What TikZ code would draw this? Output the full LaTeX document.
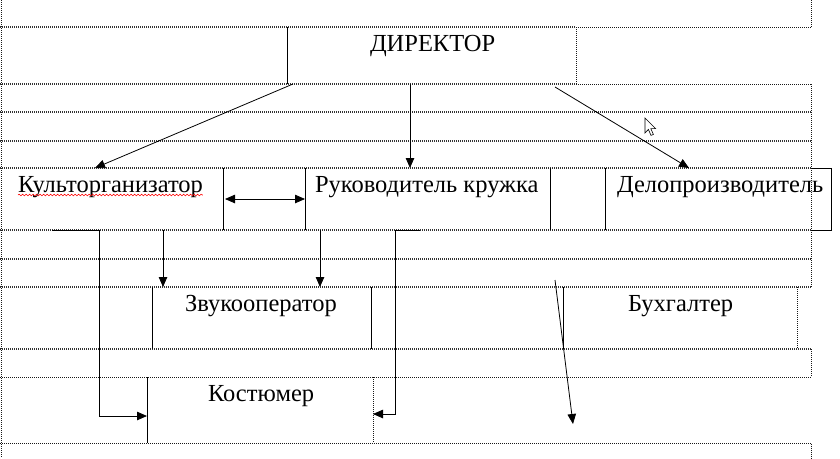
\documentclass[tikz,border=0pt]{standalone}
\usepackage{fontspec}
\setmainfont{Liberation Serif}
\usetikzlibrary{arrows.meta,decorations.pathmorphing}
\begin{document}
\begin{tikzpicture}[x=1pt,y=-1pt,
  cell/.style={rectangle, inner sep=0pt, outer sep=0pt, anchor=north west},
  lbl/.style={anchor=base west, inner sep=0pt, outer sep=0pt, font=\fontsize{24.5}{29}\selectfont},
  border/.style={line width=0.8pt},
  arr/.style={line width=0.8pt, -{Triangle[length=10pt,width=8.5pt]}},
  darr/.style={line width=0.8pt, {Triangle[length=10pt,width=8.5pt]}-{Triangle[length=10pt,width=8.5pt]}},
  gridd/.style={line width=1.7pt, dash pattern=on 1pt off 1pt, black!80},
  grids/.style={line width=0.9pt, dash pattern=on 1pt off 1pt, black!90}]
\useasboundingbox[fill=white] (0,0) rectangle (840,458);

% table gridlines
\draw[grids] (1.5,0) -- (1.5,458);
\draw[grids] (811,0) -- (811,27);
\draw[gridd] (0,27) -- (576,27);
\draw[grids] (576,27) -- (811,27);
\draw[grids] (576,27) -- (576,84);
\draw[gridd] (0,84) -- (576,84);
\draw[grids] (576,84) -- (811,84);
\draw[grids] (811,84) -- (811,287);
\foreach \yy in {112,141,168,230,259,287,349}
  \draw[gridd] (0,\yy) -- (811,\yy);
\draw[grids] (797,287) -- (797,349);
\draw[grids] (811,349) -- (811,377);
\draw[grids] (0,377) -- (811,377);
\draw[grids] (373,377) -- (373,443);
\draw[grids] (0,443.5) -- (811,443.5);
\draw[grids] (811,443.5) -- (811,458);

% cells
\node[cell, minimum width=289pt, minimum height=57pt] (dir) at (287,27) {};
\node[cell, minimum width=223pt, minimum height=62pt] (kult) at (0,168) {};
\node[cell, minimum width=245pt, minimum height=62pt] (ruk) at (305,168) {};
\node[cell, minimum width=226pt, minimum height=62pt] (delo) at (605,168) {};
\node[cell, minimum width=219pt, minimum height=62pt] (zvuk) at (152,287) {};
\node[cell, minimum width=234pt, minimum height=62pt] (buh) at (563,287) {};
\node[cell, minimum width=226pt, minimum height=66pt] (kost) at (147,377) {};

% solid borders
\draw[border] (dir.north west) -- (dir.south west);
\draw[border] (kult.north east) -- (kult.south east);
\draw[border] (ruk.north west) -- (ruk.south west);
\draw[border] (ruk.north east) -- (ruk.south east);
\draw[border] (delo.north west) -- (delo.south west);
\draw[border] (811,168) -- (delo.north east) -- (delo.south east) -- (811,230);
\draw[border] (zvuk.north west) -- (zvuk.south west);
\draw[border] (zvuk.north east) -- (zvuk.south east);
\draw[border] (buh.north west) -- (buh.south west);
\draw[border] (kost.north west) -- (kost.south west);

% labels
\node[lbl] (dirt) at (370,51) {ДИРЕКТОР};
\node[lbl] (kultt) at (18,192) {Культорганизатор};
\node[lbl] (rukt) at (315,192) {Руководитель кружка};
\node[lbl] (delot) at (617,192) {Делопроизводитель};
\node[lbl] (zvukt) at (185,311) {Звукооператор};
\node[lbl] (buht) at (628,311) {Бухгалтер};
\node[lbl] (kostt) at (208,401) {Костюмер};

% spelling underline
\draw[red, line width=0.6pt, decorate, decoration={snake, segment length=3.5pt, amplitude=0.8pt}]
  ([yshift=-3pt]kultt.base west) -- ([yshift=-3pt]kultt.base east);

% connectors
\draw[arr] ([xshift=6pt]dir.south west) -- ([xshift=95pt]kult.north west);
\draw[arr] ([xshift=123pt]dir.south west) -- ([xshift=105pt]ruk.north west);
\draw[arr] ([xshift=268pt,yshift=-3pt]dir.south west) -- ([xshift=84pt]delo.north west);
\draw[darr] ([xshift=2pt]kult.east) -- (ruk.west);
\draw[arr] ([xshift=163pt]kult.south west) -- ([xshift=11pt]zvuk.north west);
\draw[arr] ([xshift=15pt]ruk.south west) -- ([xshift=168pt]zvuk.north west);
\draw[arr] ([xshift=52pt]kult.south west) -- ([xshift=99pt]kult.south west) |- ([yshift=-6pt]kost.west);
\draw[arr] ([xshift=115pt]ruk.south west) -- ([xshift=90pt]ruk.south west) |- ([yshift=-4pt]kost.east);
\coordinate (loose) at (573,424);
\draw[arr] ([xshift=-8pt,yshift=7pt]buh.north west) -- (loose);

% mouse pointer
\draw[fill=white, line width=0.6pt, line join=miter]
  (645,118) -- ++(0,15) -- ++(3.4,-3.6) -- ++(2.6,6) -- ++(2.4,-1) -- ++(-2.6,-5.8) -- ++(4.8,0) -- cycle;
\end{tikzpicture}
\end{document}
